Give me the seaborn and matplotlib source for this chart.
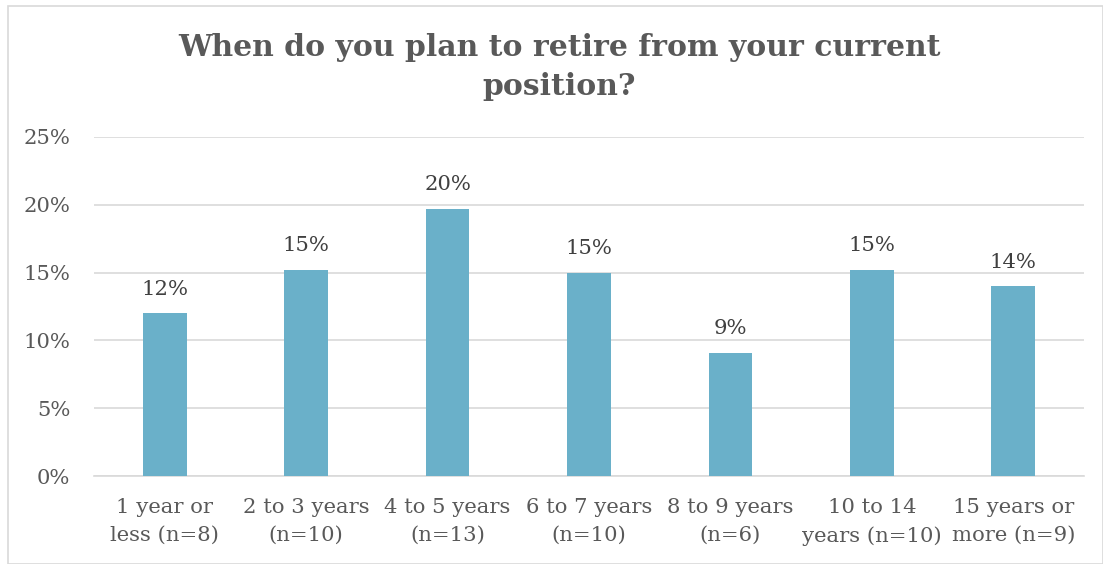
import matplotlib
matplotlib.use("Agg")
import matplotlib.pyplot as plt
import seaborn as sns
import pandas as pd
from matplotlib.ticker import PercentFormatter
from matplotlib.patches import Rectangle

categories = ["1 year or\nless (n=8)", "2 to 3 years\n(n=10)", "4 to 5 years\n(n=13)",
              "6 to 7 years\n(n=10)", "8 to 9 years\n(n=6)", "10 to 14\nyears (n=10)",
              "15 years or\nmore (n=9)"]
values = [12.0, 15.2, 19.7, 15.0, 9.1, 15.2, 14.0]
labels = ["12%", "15%", "20%", "15%", "9%", "15%", "14%"]
title = "When do you plan to retire from your current\nposition?"

sns.set_theme(style="white")
plt.rcParams['font.family'] = ['DejaVu Serif']

df = pd.DataFrame({"cat": categories, "val": values})

fig = plt.figure(figsize=(11.03, 5.64), dpi=100)
fig.patches.append(Rectangle((8/1103, 0), 1 - 8/1103, 1 - 6/564, transform=fig.transFigure,
                             fill=False, edgecolor="#D9D9D9", linewidth=1.2))
ax = fig.add_axes([94/1103, 1 - 476/564, (1084 - 94)/1103, (476 - 137)/564])

sns.barplot(data=df, x="cat", y="val", color="#6AB0C9", saturation=1, width=0.31,
            linewidth=0, ax=ax, zorder=3)

ax.set_ylim(0, 25)
ax.set_xlim(-0.5, 6.5)
ax.set_yticks([0, 5, 10, 15, 20, 25])
ax.yaxis.set_major_formatter(PercentFormatter(decimals=0))
ax.grid(axis="y", color="#D9D9D9", linewidth=1.2, zorder=0)
for s in ["top", "right", "left"]:
    ax.spines[s].set_visible(False)
ax.spines["bottom"].set_color("#D9D9D9")
ax.spines["bottom"].set_linewidth(1.2)
ax.set_xlabel("")
ax.set_ylabel("")
ax.tick_params(axis="both", length=0, colors="#595959", labelsize=15.2)
ax.tick_params(axis="x", pad=16)
ax.tick_params(axis="y", pad=17)
for lab in ax.get_xticklabels():
    lab.set_linespacing(1.55)
for lab in ax.get_xticklabels() + ax.get_yticklabels():
    lab.set_color("#595959")

for p, t in zip(ax.patches, labels):
    ax.annotate(t, (p.get_x() + p.get_width() / 2, p.get_height()),
                xytext=(0, 10.5), textcoords="offset points", ha="center", va="bottom",
                fontsize=15.2, color="#404040")

fig.text(559/1103, 1 - 33/564, title, ha="center", va="top", fontsize=21.5,
         fontweight="bold", color="#595959", linespacing=1.42)

fig.savefig("out.png", dpi=100)
